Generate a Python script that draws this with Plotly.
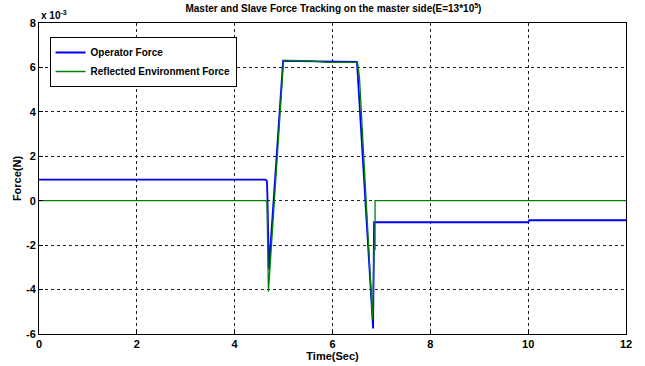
import plotly.graph_objects as go

# Operator force (x 10^-3 N) over time (s)
op_time = [0, 4.63, 4.66, 4.67, 4.70, 4.99, 5.30, 6.50, 6.83, 6.85, 10.00, 10.02, 12]
op_force = [0.95, 0.95, 0.88, 0.2, -3.1, 6.30, 6.28, 6.25, -5.75, -0.97, -0.97, -0.88, -0.88]

# Reflected environment force (x 10^-3 N)
env_time = [0, 4.64, 4.66, 4.67, 4.69, 5.00, 5.50, 5.90, 6.51, 6.55, 6.82, 6.85, 6.87, 6.87, 12]
env_force = [0, 0, -0.05, -0.95, -4.1, 6.32, 6.30, 6.23, 6.23, 5.6, -5.35, -2.2, -2.2, 0, 0]

x_ticks = [0, 2, 4, 6, 8, 10, 12]
y_ticks = [-6, -4, -2, 0, 2, 4, 6, 8]

font_family = "Liberation Sans, Arial, sans-serif"

fig = go.Figure()
fig.add_trace(go.Scatter(
    x=op_time, y=op_force, mode="lines", name="<b>Operator Force</b>",
    line=dict(color="#0000ff", width=1.8),
))
fig.add_trace(go.Scatter(
    x=env_time, y=env_force, mode="lines", name="<b>Reflected Environment Force</b>",
    line=dict(color="#008000", width=1.3),
))

axis_common = dict(
    showline=True, linecolor="black", linewidth=1, mirror=True,
    showgrid=True, gridcolor="#222222", gridwidth=0.7, griddash="dot",
    zeroline=False, ticks="inside", ticklen=4, tickcolor="black",
    tickfont=dict(family=font_family, size=11, color="black", weight="bold"),
    automargin=False,
)

fig.update_layout(
    width=645, height=366,
    paper_bgcolor="white", plot_bgcolor="white",
    margin=dict(l=39, r=19, t=23, b=32),
    title=dict(
        text="<b>Master and Slave Force Tracking on the master side(E=13*10<sup>5</sup>)</b>",
        x=0.517, xanchor="center", y=0.985, yanchor="top",
        font=dict(family=font_family, size=10, color="black"),
    ),
    xaxis=dict(
        range=[0, 12], tickvals=x_ticks, ticktext=[str(v) for v in x_ticks],
        title=dict(text="<b>Time(Sec)</b>", standoff=1,
                   font=dict(family=font_family, size=11, color="black")),
        **axis_common,
    ),
    yaxis=dict(
        range=[-6, 8], tickvals=y_ticks, ticktext=[str(v) for v in y_ticks],
        title=dict(text="<b>Force(N)</b>", standoff=2,
                   font=dict(family=font_family, size=11, color="black")),
        **axis_common,
    ),
    legend=dict(
        x=0.018, y=0.955, xanchor="left", yanchor="top",
        bgcolor="white", bordercolor="black", borderwidth=1,
        font=dict(family=font_family, size=10, color="black"),
        tracegroupgap=0, itemwidth=30,
    ),
    showlegend=True,
)

fig.add_annotation(
    x=0, y=1.0, xref="paper", yref="paper", xanchor="left", yanchor="bottom",
    text="<b>x 10<sup>-3</sup></b>", showarrow=False, xshift=0, yshift=0,
    font=dict(family=font_family, size=10, color="black"),
)

fig.write_html("out.html")
